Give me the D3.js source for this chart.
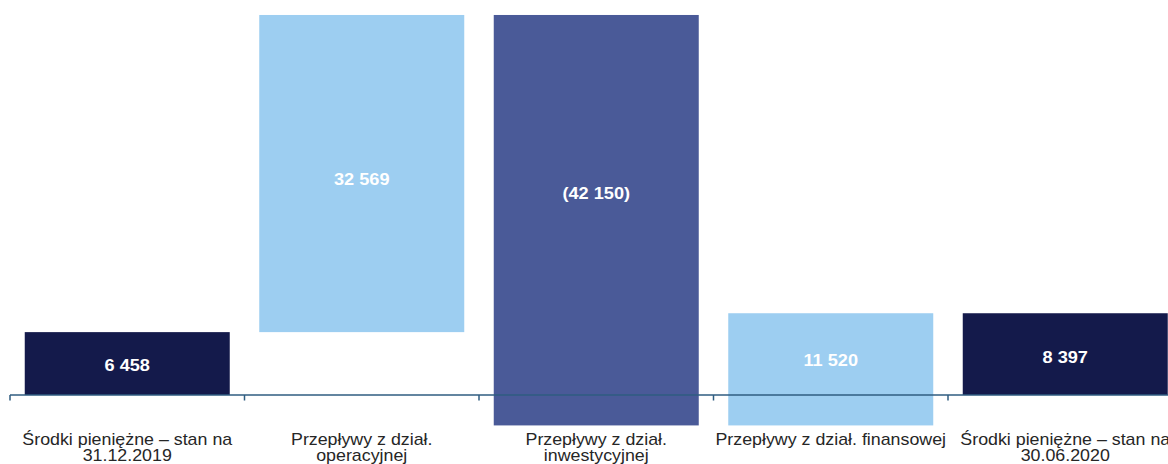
<!doctype html>
<html>
<head>
<meta charset="UTF-8">
<title>Przepływy pieniężne</title>
<script src="https://cdnjs.cloudflare.com/ajax/libs/d3/7.8.5/d3.min.js"></script>
<style>
	body { margin: 0; background: #fff; }
	svg { display: block; }
	text { font-family: "Liberation Sans", Arial, sans-serif; }
</style>
</head>
<body>
<svg id="chart" width="1168" height="464"></svg>
<script>
// waterfall data (tys. zł)
const categories = ['start', 'oper', 'inwest', 'finans', 'end'];
const categoryLines = [
	['Środki pieniężne – stan na', '31.12.2019'],
	['Przepływy z dział.', 'operacyjnej'],
	['Przepływy z dział.', 'inwestycyjnej'],
	['Przepływy z dział. finansowej'],
	['Środki pieniężne – stan na', '30.06.2020']
];
const values = [6458, 32569, -42150, 11520, 8397];
const kinds = ['total', 'delta', 'delta', 'delta', 'total'];
const valueLabels = ['6 458', '32 569', '(42 150)', '11 520', '8 397'];
// vertical level of the value label, in data units
const labelLevel = [3100, 22200, 20700, 3600, 3900];

(function(){
	'use strict'

	const svg = d3.select('#chart');
	const stretch = 1.1; // texts in the original are a bit wide

	// running totals
	let run = 0;
	const bars = values.map(function(v, i){
		let lo, hi;
		if(kinds[i] === 'total'){
			lo = 0; hi = v; run = v;
		} else {
			lo = run; hi = run + v; run = hi;
		}
		return {key: categories[i], lo: Math.min(lo, hi), hi: Math.max(lo, hi), v: v, i: i};
	});

	const x = d3.scaleBand()
		.domain(categories)
		.range([10, 1182.5])
		.paddingInner(0.1258)
		.paddingOuter(0.0629);

	const y = d3.scaleLinear()
		.domain([-5000, 40000])
		.range([443.7, 5.5]);

	const colors = {start: '#141a4b', oper: '#9dcef1', inwest: '#4a5a98', finans: '#9dcef1', end: '#141a4b'};

	svg.append('g').selectAll('rect')
		.data(bars)
		.enter().append('rect')
		.attr('x', function(d){ return x(d.key); })
		.attr('width', x.bandwidth())
		.attr('y', function(d){ return y(d.hi); })
		.attr('height', function(d){ return y(d.lo) - y(d.hi); })
		.attr('fill', function(d){ return colors[d.key]; });

	// axis line with ticks on category borders
	const step = x.step();
	const edge = function(i){ return x(categories[0]) - step * x.paddingInner() / 2 + i * step; };
	const axis = svg.append('g').attr('stroke', '#2f5d80').attr('stroke-width', 1.5);
	axis.append('line')
		.attr('x1', edge(0)).attr('x2', edge(categories.length))
		.attr('y1', y(0)).attr('y2', y(0));
	axis.selectAll('line.tick')
		.data(d3.range(categories.length + 1))
		.enter().append('line')
		.attr('class', 'tick')
		.attr('x1', edge).attr('x2', edge)
		.attr('y1', y(0)).attr('y2', y(0) + 5.5);

	// value labels
	svg.append('g').selectAll('text')
		.data(bars)
		.enter().append('text')
		.attr('transform', function(d){
			return 'translate(' + (x(d.key) + x.bandwidth() / 2) + ',' + y(labelLevel[d.i]) + ') scale(' + stretch + ',1)';
		})
		.attr('text-anchor', 'middle')
		.attr('dy', '0.35em')
		.attr('font-size', '16.5px')
		.attr('font-weight', 'bold')
		.attr('fill', '#ffffff')
		.text(function(d){ return valueLabels[d.i]; });

	// category labels
	const cat = svg.append('g').selectAll('g')
		.data(categories)
		.enter().append('g')
		.attr('transform', function(c){
			return 'translate(' + (x(c) + x.bandwidth() / 2) + ',' + (y(0) + 49.5) + ') scale(' + stretch + ',1)';
		});
	cat.selectAll('text')
		.data(function(c, i){ return categoryLines[i]; })
		.enter().append('text')
		.attr('text-anchor', 'middle')
		.attr('y', function(t, j){ return j * 16.5; })
		.attr('font-size', '16.2px')
		.attr('fill', '#262626')
		.text(function(t){ return t; });
})();
</script>
</body>
</html>
